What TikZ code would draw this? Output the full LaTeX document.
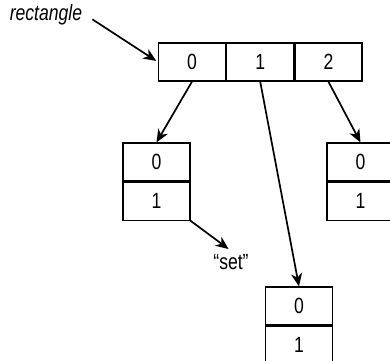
\documentclass[tikz,border=0pt]{standalone}
\usepackage{fontspec}
\setmainfont{Liberation Sans}[FakeStretch=0.8]
\usetikzlibrary{positioning, arrows.meta}
\tikzset{cell/.style = {draw, line width=1.2pt, minimum width=67pt, minimum height=38pt, inner sep=0pt, font=\fontsize{22}{26}\selectfont},
	link/.style = {line width=1.7pt, -{Stealth[length=13pt, width=11pt, inset=4pt]}}}

\begin{document}
\begin{tikzpicture}[x=1pt, y=-1pt, node distance=0pt]
			\useasboundingbox (0,0) rectangle (390,360);
			\node[font=\fontsize{22}{26}\selectfont\itshape] (name) at (46,15) {rectangle};
			\node[cell]                        (top0)  at (192,62) {0};
			\node[cell, right=of top0]         (top1)  {1};
			\node[cell, right=of top1]         (top2)  {2};
			\node[cell]                        (left0) at (156.5,162) {0};
			\node[cell, below=of left0]        (left1) {1};
			\node[cell]                        (right0) at (360.5,162) {0};
			\node[cell, below=of right0]       (right1) {1};
			\node[cell]                        (mid0)  at (299,306) {0};
			\node[cell, below=of mid0]         (mid1)  {1};
			\node[font=\fontsize{22}{26}\selectfont] (set) at (231,262) {``set''};
			
			\draw[link, shorten <=8pt, shorten >=2pt] (name.east) -- (top0.west);
			\draw[link] (top0.south) -- (left0.north);
			\draw[link] (top1.south) -- (mid0.north);
			\draw[link] (top2.south) -- (right0.north);
			\draw[link, shorten >=3pt] (left1.south east) -- (set.north);
			
		\end{tikzpicture}
\end{document}
